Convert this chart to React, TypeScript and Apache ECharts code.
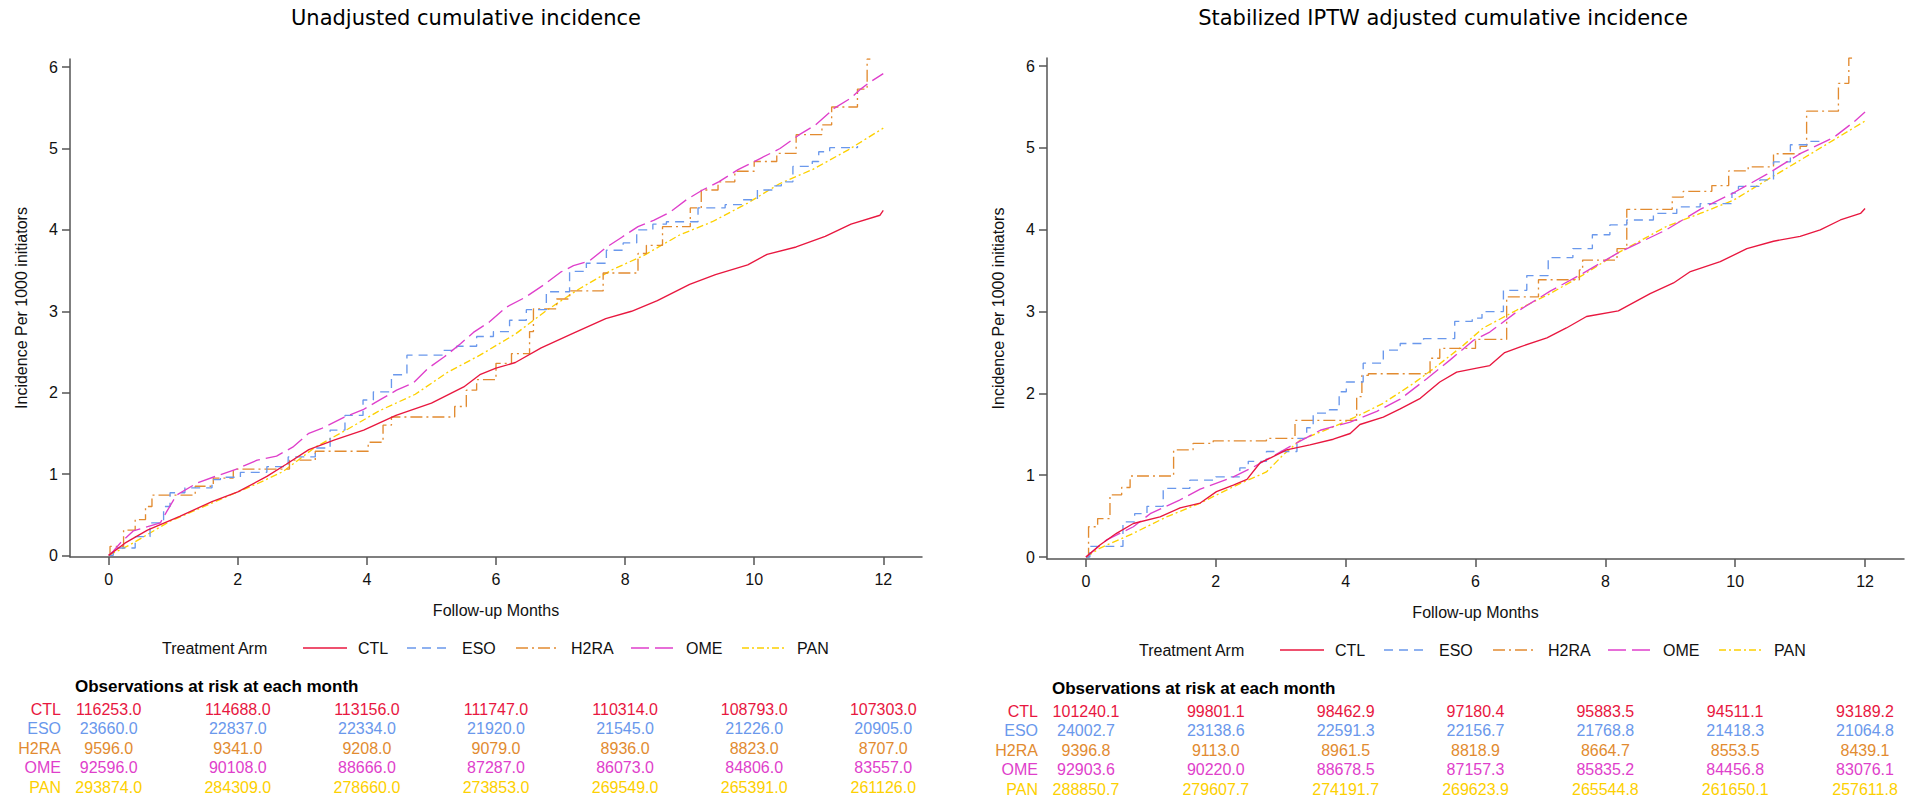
import { useEffect, useRef } from "react";
import * as echarts from "echarts";

// ---------- data ----------
const ARMS = ["CTL", "ESO", "H2RA", "OME", "PAN"];
const MONTH_TICKS = [0, 2, 4, 6, 8, 10, 12];
const INCIDENCE_TICKS = [0, 1, 2, 3, 4, 5, 6];
const PANEL_TITLES = ["Unadjusted cumulative incidence", "Stabilized IPTW adjusted cumulative incidence"];

// Unadjusted panel
const UNADJ_CTL_M = [0, 0.25, 0.6, 1.1, 1.6, 2.0, 2.45, 2.75, 3.1, 3.5, 3.95, 4.45, 5.0, 5.5, 5.75, 6.0, 6.3, 6.7, 7.2, 7.7, 8.1, 8.5, 9.0, 9.4, 9.9, 10.2, 10.65, 11.1, 11.5, 11.95, 12.0];
const UNADJ_CTL_V = [0, 0.15, 0.31, 0.48, 0.66, 0.78, 0.97, 1.12, 1.30, 1.42, 1.54, 1.72, 1.87, 2.07, 2.22, 2.30, 2.37, 2.55, 2.73, 2.91, 3.0, 3.13, 3.33, 3.45, 3.57, 3.70, 3.79, 3.92, 4.07, 4.18, 4.24];
const UNADJ_ESO_M = [0, 0.07, 0.41, 0.64, 0.85, 0.95, 1.18, 1.6, 1.73, 2.04, 2.45, 2.78, 3.2, 3.43, 3.66, 3.94, 4.1, 4.38, 4.62, 5.18, 5.39, 5.7, 5.96, 6.21, 6.47, 6.78, 7.14, 7.4, 7.71, 7.97, 8.18, 8.43, 8.64, 9.13, 9.55, 9.8, 10.05, 10.3, 10.42, 10.6, 10.9, 11.0, 11.17, 11.6];
const UNADJ_ESO_V = [0, 0.09, 0.23, 0.40, 0.60, 0.77, 0.83, 0.93, 0.96, 1.02, 1.09, 1.21, 1.32, 1.54, 1.72, 1.91, 2.01, 2.22, 2.46, 2.52, 2.57, 2.69, 2.75, 2.89, 3.02, 3.24, 3.49, 3.59, 3.75, 3.84, 4.0, 4.07, 4.10, 4.27, 4.31, 4.37, 4.49, 4.54, 4.59, 4.78, 4.84, 4.96, 5.01, 5.03];
const UNADJ_H2RA_M = [0, 0.02, 0.23, 0.41, 0.57, 0.67, 1.34, 1.62, 1.93, 2.8, 3.2, 4.02, 4.25, 4.38, 5.36, 5.54, 5.70, 6.0, 6.24, 6.52, 6.58, 6.94, 7.14, 7.66, 8.2, 8.33, 8.58, 9.01, 9.18, 9.44, 9.70, 10.0, 10.35, 10.65, 11.05, 11.2, 11.6, 11.75, 11.8];
const UNADJ_H2RA_V = [0, 0.11, 0.31, 0.44, 0.60, 0.74, 0.85, 0.95, 1.06, 1.17, 1.28, 1.39, 1.60, 1.70, 1.83, 2.03, 2.16, 2.36, 2.48, 2.75, 3.03, 3.15, 3.25, 3.47, 3.71, 3.81, 4.04, 4.27, 4.49, 4.59, 4.72, 4.84, 4.94, 5.17, 5.29, 5.51, 5.73, 6.1, 6.1];
const UNADJ_OME_M = [0, 0.07, 0.2, 0.38, 0.8, 0.9, 1.05, 1.37, 1.65, 1.98, 2.3, 2.6, 2.85, 3.1, 3.3, 3.65, 3.94, 4.2, 4.46, 4.72, 4.95, 5.2, 5.45, 5.65, 5.9, 6.16, 6.45, 6.75, 7.0, 7.2, 7.45, 7.7, 7.95, 8.2, 8.45, 8.7, 8.95, 9.2, 9.45, 9.75, 10.1, 10.4, 10.7, 10.95, 11.25, 11.5, 11.65, 11.8, 12.0];
const UNADJ_OME_V = [0, 0.05, 0.17, 0.30, 0.40, 0.54, 0.74, 0.89, 0.97, 1.06, 1.17, 1.22, 1.33, 1.50, 1.56, 1.70, 1.79, 1.91, 2.03, 2.12, 2.30, 2.44, 2.60, 2.74, 2.87, 3.05, 3.17, 3.33, 3.48, 3.56, 3.62, 3.78, 3.91, 4.04, 4.12, 4.22, 4.37, 4.49, 4.59, 4.74, 4.88, 5.0, 5.17, 5.29, 5.50, 5.62, 5.73, 5.82, 5.92];
const UNADJ_PAN_M = [0, 0.33, 0.95, 1.3, 2.0, 2.3, 2.7, 3.2, 3.7, 4.2, 4.75, 5.25, 5.75, 6.3, 6.8, 7.3, 7.8, 8.3, 8.85, 9.35, 9.9, 10.4, 10.9, 11.45, 12];
const UNADJ_PAN_V = [0, 0.13, 0.42, 0.54, 0.78, 0.88, 1.03, 1.33, 1.55, 1.78, 1.98, 2.25, 2.46, 2.72, 3.02, 3.28, 3.51, 3.69, 3.94, 4.10, 4.33, 4.57, 4.74, 4.98, 5.25];

// Stabilized IPTW adjusted panel
const ADJ_CTL_M = [0, 0.22, 0.47, 0.73, 1.14, 1.45, 1.76, 2.01, 2.27, 2.48, 2.68, 2.89, 3.09, 3.45, 3.81, 4.07, 4.22, 4.58, 4.84, 5.15, 5.45, 5.71, 6.02, 6.22, 6.45, 6.69, 7.1, 7.4, 7.71, 8.2, 8.69, 9.05, 9.31, 9.77, 10.18, 10.59, 11.0, 11.31, 11.62, 11.93, 12.0];
const ADJ_CTL_V = [0, 0.15, 0.29, 0.41, 0.49, 0.60, 0.66, 0.80, 0.88, 0.95, 1.15, 1.23, 1.31, 1.37, 1.44, 1.51, 1.62, 1.71, 1.81, 1.94, 2.14, 2.26, 2.31, 2.34, 2.50, 2.57, 2.68, 2.80, 2.94, 3.01, 3.22, 3.35, 3.49, 3.61, 3.77, 3.86, 3.92, 4.0, 4.12, 4.20, 4.26];
const ADJ_ESO_M = [0, 0.06, 0.57, 0.75, 0.94, 1.19, 1.6, 2.0, 2.37, 2.5, 2.78, 3.25, 3.4, 3.5, 3.75, 3.9, 4.01, 4.27, 4.58, 4.84, 5.2, 5.68, 5.95, 6.1, 6.43, 6.79, 7.12, 7.5, 7.8, 8.07, 8.33, 8.74, 9.1, 9.46, 9.95, 10.05, 10.38, 10.59, 10.85, 11.15, 11.37];
const ADJ_ESO_V = [0, 0.13, 0.43, 0.53, 0.62, 0.84, 0.94, 0.98, 1.09, 1.17, 1.29, 1.45, 1.58, 1.76, 1.80, 2.02, 2.14, 2.37, 2.53, 2.61, 2.67, 2.88, 2.92, 3.0, 3.26, 3.44, 3.66, 3.77, 3.94, 4.06, 4.12, 4.20, 4.28, 4.32, 4.45, 4.53, 4.61, 4.83, 5.04, 5.08, 5.08];
const ADJ_H2RA_M = [0, 0.04, 0.18, 0.37, 0.55, 0.68, 1.35, 1.65, 1.96, 2.78, 3.22, 4.17, 4.25, 4.35, 5.3, 5.45, 6.0, 6.48, 6.97, 7.6, 7.65, 8.18, 8.33, 9.03, 9.2, 9.64, 9.9, 10.2, 10.59, 11.0, 11.1, 11.59, 11.75, 11.8];
const ADJ_H2RA_V = [0, 0.37, 0.47, 0.76, 0.85, 0.99, 1.31, 1.39, 1.42, 1.45, 1.67, 1.96, 2.22, 2.24, 2.43, 2.55, 2.66, 3.18, 3.39, 3.51, 3.63, 3.77, 4.25, 4.40, 4.47, 4.54, 4.72, 4.77, 4.93, 5.02, 5.45, 5.79, 6.1, 6.1];
const ADJ_OME_M = [0, 0.32, 0.73, 0.99, 1.45, 1.76, 2.27, 2.58, 3.14, 3.61, 4.07, 4.48, 4.84, 5.25, 5.61, 5.97, 6.22, 6.64, 7.15, 7.66, 8.2, 8.94, 9.46, 9.97, 10.49, 11.0, 11.52, 11.83, 12.0];
const ADJ_OME_V = [0, 0.21, 0.37, 0.53, 0.70, 0.83, 0.98, 1.10, 1.35, 1.55, 1.65, 1.78, 1.93, 2.18, 2.41, 2.65, 2.75, 3.0, 3.25, 3.47, 3.72, 4.0, 4.25, 4.45, 4.68, 4.93, 5.13, 5.32, 5.44];
const ADJ_PAN_M = [0, 0.22, 0.73, 1.24, 1.76, 2.27, 2.78, 3.04, 3.30, 3.81, 4.2, 4.58, 5.04, 5.35, 5.8, 6.12, 6.64, 7.15, 7.66, 8.2, 8.94, 9.46, 9.97, 10.49, 11.0, 11.52, 12.0];
const ADJ_PAN_V = [0, 0.11, 0.29, 0.49, 0.66, 0.86, 1.04, 1.25, 1.43, 1.59, 1.73, 1.88, 2.12, 2.30, 2.58, 2.80, 3.02, 3.22, 3.45, 3.72, 4.04, 4.20, 4.36, 4.61, 4.85, 5.10, 5.33];

// Observations at risk at each month (months 0,2,...,12)
const RISK_UNADJ_CTL = [116253.0, 114688.0, 113156.0, 111747.0, 110314.0, 108793.0, 107303.0];
const RISK_UNADJ_ESO = [23660.0, 22837.0, 22334.0, 21920.0, 21545.0, 21226.0, 20905.0];
const RISK_UNADJ_H2RA = [9596.0, 9341.0, 9208.0, 9079.0, 8936.0, 8823.0, 8707.0];
const RISK_UNADJ_OME = [92596.0, 90108.0, 88666.0, 87287.0, 86073.0, 84806.0, 83557.0];
const RISK_UNADJ_PAN = [293874.0, 284309.0, 278660.0, 273853.0, 269549.0, 265391.0, 261126.0];
const RISK_ADJ_CTL = [101240.1, 99801.1, 98462.9, 97180.4, 95883.5, 94511.1, 93189.2];
const RISK_ADJ_ESO = [24002.7, 23138.6, 22591.3, 22156.7, 21768.8, 21418.3, 21064.8];
const RISK_ADJ_H2RA = [9396.8, 9113.0, 8961.5, 8818.9, 8664.7, 8553.5, 8439.1];
const RISK_ADJ_OME = [92903.6, 90220.0, 88678.5, 87157.3, 85835.2, 84456.8, 83076.1];
const RISK_ADJ_PAN = [288850.7, 279607.7, 274191.7, 269623.9, 265544.8, 261650.1, 257611.8];

// ---------- styling ----------
const FONT = '"Liberation Sans", Arial, sans-serif';
const TITLE_FONT = '"DejaVu Sans", sans-serif';
const AXIS_COLOR = "#555555";
const LINE_WIDTH = 1.35;
const ARM_STYLE: Record<string, { color: string; dash: any; step: any }> = {
  CTL: { color: "#e8173f", dash: "solid", step: false },
  ESO: { color: "#6a98ec", dash: [9, 6], step: "end" },
  H2RA: { color: "#e28b30", dash: [12, 4, 2, 4], step: "end" },
  OME: { color: "#df3fcb", dash: [18, 6], step: false },
  PAN: { color: "#fdd000", dash: [7, 3, 2, 3], step: false },
};
const DRAW_ORDER = ["PAN", "H2RA", "ESO", "OME", "CTL"];

const GRIDS = [
  { left: 70, top: 59, width: 852, height: 498, ymin: -0.02, titleX: 466 },
  { left: 1047, top: 58, width: 857, height: 501, ymin: -0.024, titleX: 1443 },
];
const LEGEND_OFFSETS = [233, 337, 446, 561, 672];

const pairs = (m: number[], v: number[]) => m.map((x, i) => [x, v[i]]);

const PANEL_DATA: Record<string, number[][]>[] = [
  {
    CTL: pairs(UNADJ_CTL_M, UNADJ_CTL_V),
    ESO: pairs(UNADJ_ESO_M, UNADJ_ESO_V),
    H2RA: pairs(UNADJ_H2RA_M, UNADJ_H2RA_V),
    OME: pairs(UNADJ_OME_M, UNADJ_OME_V),
    PAN: pairs(UNADJ_PAN_M, UNADJ_PAN_V),
  },
  {
    CTL: pairs(ADJ_CTL_M, ADJ_CTL_V),
    ESO: pairs(ADJ_ESO_M, ADJ_ESO_V),
    H2RA: pairs(ADJ_H2RA_M, ADJ_H2RA_V),
    OME: pairs(ADJ_OME_M, ADJ_OME_V),
    PAN: pairs(ADJ_PAN_M, ADJ_PAN_V),
  },
];
const PANEL_RISK: number[][][] = [
  [RISK_UNADJ_CTL, RISK_UNADJ_ESO, RISK_UNADJ_H2RA, RISK_UNADJ_OME, RISK_UNADJ_PAN],
  [RISK_ADJ_CTL, RISK_ADJ_ESO, RISK_ADJ_H2RA, RISK_ADJ_OME, RISK_ADJ_PAN],
];

function buildOption() {
  const grid = GRIDS.map((g) => ({ left: g.left, top: g.top, width: g.width, height: g.height, containLabel: false }));
  const axisLineStyle = { color: AXIS_COLOR, width: 1.5 };
  const xAxis = GRIDS.map((g, i) => ({
    gridIndex: i,
    type: "value",
    min: -0.6,
    max: 12.6,
    axisLine: { show: true, onZero: false, lineStyle: axisLineStyle },
    axisTick: { show: true, length: 8, customValues: MONTH_TICKS, lineStyle: axisLineStyle },
    axisLabel: { customValues: MONTH_TICKS, margin: 14, fontSize: 16, fontFamily: FONT, color: "#111" },
    splitLine: { show: false },
    name: "Follow-up Months",
    nameLocation: "middle",
    nameGap: 45,
    nameTextStyle: { fontSize: 16, fontFamily: FONT, color: "#111" },
  }));
  const yAxis = GRIDS.map((g, i) => ({
    gridIndex: i,
    type: "value",
    min: g.ymin,
    max: 6.1,
    axisLine: { show: true, onZero: false, lineStyle: axisLineStyle },
    axisTick: { show: true, length: 8, customValues: INCIDENCE_TICKS, lineStyle: axisLineStyle },
    axisLabel: { customValues: INCIDENCE_TICKS, margin: 12, fontSize: 16, fontFamily: FONT, color: "#111" },
    splitLine: { show: false },
    name: "Incidence Per 1000 initiators",
    nameLocation: "middle",
    nameGap: 41,
    nameTextStyle: { fontSize: 16, fontFamily: FONT, color: "#111" },
  }));
  const series: any[] = [];
  PANEL_DATA.forEach((panel, pi) => {
    DRAW_ORDER.forEach((arm) => {
      const st = ARM_STYLE[arm];
      series.push({
        name: arm,
        type: "line",
        xAxisIndex: pi,
        yAxisIndex: pi,
        data: panel[arm],
        step: st.step,
        symbol: "none",
        showSymbol: false,
        silent: true,
        lineStyle: { color: st.color, width: LINE_WIDTH, type: st.dash },
        itemStyle: { color: st.color },
      });
    });
  });
  const title = GRIDS.map((g, i) => ({
    text: PANEL_TITLES[i],
    left: g.titleX,
    top: 7,
    padding: 0,
    textAlign: "center",
    textStyle: { fontFamily: TITLE_FONT, fontSize: 21, fontWeight: "normal", color: "#000" },
  }));
  return { animation: false, backgroundColor: "#ffffff", title, grid, xAxis, yAxis, series };
}

function text(x: number, y: number, str: string, opts: any) {
  return {
    type: "text",
    x,
    y,
    silent: true,
    style: {
      text: str,
      fill: opts.fill || "#111",
      font: opts.font || `16px ${FONT}`,
      align: opts.align || "left",
      textAlign: opts.align || "left",
      verticalAlign: "middle",
      textVerticalAlign: "middle",
    },
  };
}

function buildGraphics(px: (axis: number, m: number) => number) {
  const els: any[] = [];
  GRIDS.forEach((g, pi) => {
    const bottom = g.top + g.height;
    const legendY = bottom + 91;
    els.push(text(g.left + 92, legendY, "Treatment Arm", { fill: "#111" }));
    ARMS.forEach((arm, ai) => {
      const st = ARM_STYLE[arm];
      const x0 = g.left + LEGEND_OFFSETS[ai];
      els.push({
        type: "line",
        silent: true,
        shape: { x1: x0, y1: legendY, x2: x0 + 44, y2: legendY },
        style: { stroke: st.color, lineWidth: LINE_WIDTH, lineDash: st.dash === "solid" ? null : st.dash },
      });
      els.push(text(x0 + 55, legendY, arm, { fill: "#111" }));
    });
    els.push(text(g.left + 5, bottom + 129.5, "Observations at risk at each month", { font: `bold 17px ${FONT}`, fill: "#000" }));
    ARMS.forEach((arm, ai) => {
      const y = bottom + 152 + ai * 19.6;
      const color = ARM_STYLE[arm].color;
      els.push(text(g.left - 9, y, arm, { fill: color, align: "right" }));
      PANEL_RISK[pi][ai].forEach((val, mi) => {
        els.push(text(px(pi, MONTH_TICKS[mi]), y, val.toFixed(1), { fill: color, align: "center" }));
      });
    });
  });
  return els;
}

export default function App() {
  const ref = useRef<HTMLDivElement>(null);
  useEffect(() => {
    const el = ref.current;
    if (!el) return;
    const chart = echarts.init(el, null, { renderer: "svg" });
    chart.setOption(buildOption() as any);
    const px = (axis: number, m: number) => chart.convertToPixel({ xAxisIndex: axis } as any, m) as number;
    chart.setOption({ graphic: buildGraphics(px) } as any);
    return () => chart.dispose();
  }, []);
  return <div ref={ref} style={{ position: "absolute", left: 0, top: 0, width: 1910, height: 800 }} />;
}
